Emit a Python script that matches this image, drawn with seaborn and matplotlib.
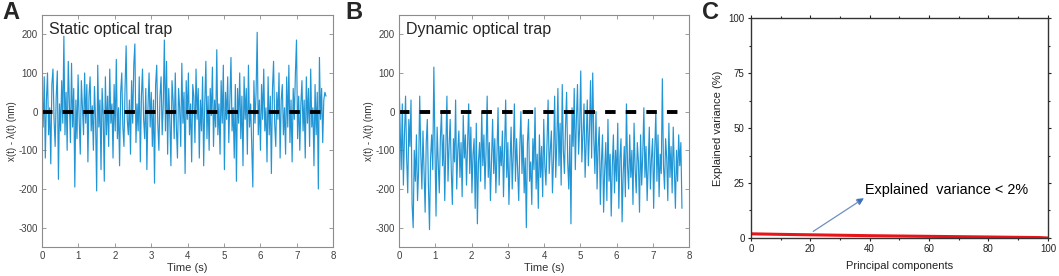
import seaborn as sns
import matplotlib.pyplot as plt
import pandas as pd
import numpy as np
from matplotlib.ticker import MultipleLocator

sns.set_theme(style="white")
plt.rcParams["font.family"] = ["Liberation Sans", "DejaVu Sans"]
plt.rcParams["axes.unicode_minus"] = False

# データ (読み取り値)
dt = 0.03  # サンプリング間隔 [s]

static_trap = [
    60, -40, 90, -120, 30, 100, -60, 10, -135, 70, 110, -20, -90, 40, 105, -175, 20, -50, 80, -30,
    195, -60, 50, -100, 130, 20, -80, 125, -40, 60, -195, 30, -70, 95, -20, -110, 80, 10, -60, 100,
    -30, 70, -130, 40, 90, -50, 15, -100, 65, -20, -205, 120, -40, 30, -150, 60, -10, -180, 90, -60,
    40, -90, 110, -30, 20, -120, 70, -50, 135, -70, 10, -140, 50, 100, -40, -90, 60, 170, -20, -60,
    30, -110, 80, -30, 120, 175, -80, 20, -50, 90, -130, 40, 110, -20, -70, 60, -150, 10, 100, -40,
    50, -90, 30, -185, 70, 120, -30, -100, 40, 90, -60, 20, 185, -50, 130, -110, 60, -20, -140, 80,
    30, -70, 100, -40, -120, 60, 10, -90, 125, -30, 50, -160, 80, -20, 100, -60, 20, -130, 70, 40,
    -80, 110, -20, 60, -120, 30, -50, 90, -140, 20, 130, -70, 40, -100, 60, -10, 115, -90, 30, -40,
    160, -60, 20, -110, 80, -30, 120, -150, 50, -20, 90, -80, 30, 140, -50, 10, -120, 70, -180, 60,
    -30, 100, -70, 40, -140, 90, -20, 60, -110, 120, -40, 20, -90, -195, 80, -30, 50, 205, -60, 30,
    -100, 70, -20, 110, -50, 10, -130, 90, -60, 40, -160, 60, 130, -30, -90, 50, -20, 100, -120, 30,
    70, -60, 10, -110, 90, -40, 120, -80, 30, -130, 60, -20, 100, 185, -70, 40, -100, 20, 80, -50,
    30, -120, 90, -30, 60, -90, 110, -40, 10, -140, 70, -60, 50, -200, 140, -20, 60, -80, 30, 50,
    40,
]

dynamic_trap = [
    85, -40, -150, 20, -190, -60, 40, -120, -210, -20, -90, 30, -240, -300, -100, -180, -60, -230, -150, 40,
    -110, -200, -50, -160, -260, -80, -20, -190, -305, -120, -60, -150, 115, -90, -270, -40, -130, -210, -70, 0,
    -140, -60, -230, -100, 40, -180, -90, -20, -150, -240, -70, -130, 30, -200, -100, -50, -170, -80, -220, -10,
    -120, -60, -190, -90, 20, -160, -40, -210, -110, -70, -250, -30, -290, -130, -80, -180, 0, -140, -60, -200,
    -100, 40, -170, -80, -230, -120, -20, -160, -70, -210, -110, 10, -190, -90, -140, -50, -220, -100, 30, -170,
    -80, -240, -130, -40, -200, -110, 20, -180, -70, -150, -230, -90, 0, -160, -60, -210, -120, -300, -80, -20,
    -180, -130, -240, -70, -150, 10, -200, -110, -250, -60, -170, -90, -220, -20, -140, -190, -80, 30, -160, -100,
    -50, -210, -120, 40, -170, -80, 60, -140, -30, -190, 70, -100, -160, -40, 50, -130, -200, -60, -290, 10,
    -90, 60, -150, -20, 70, -110, -40, 105, -130, -60, 20, -170, -80, 30, -140, -50, 80, -120, 100, -70,
    -160, 0, -200, -90, -40, -240, -130, -60, -260, -150, -80, -230, -20, -180, -110, -270, -140, -60, -210, -100,
    -180, -30, -250, -120, -70, -285, -160, -90, -220, 20, -140, -200, -60, -170, -100, -240, -30, -150, -210, -80,
    -130, -260, -60, -190, -110, 10, -170, -90, -230, -140, -40, -200, -120, -70, -250, -100, 0, -180, -60, -220,
    -110, -160, 85, -140, -200, -70, -120, -230, -30, -170, -90, -210, -40, -150, -250, -100, -180, -60, -140, -80,
    -250,
]

pc_index = [0, 10, 20, 30, 40, 50, 60, 70, 80, 90, 97, 100]
explained_var = [1.9, 1.65, 1.45, 1.25, 1.05, 0.9, 0.75, 0.6, 0.45, 0.3, 0.2, 0.0]

trace_color = "#0a8ad0"
axis_gray = "#8c8c8c"

fig = plt.figure(figsize=(10.59, 2.76), dpi=100)
ax_a = fig.add_axes([0.0397, 0.105, 0.275, 0.841])
ax_b = fig.add_axes([0.3768, 0.105, 0.274, 0.841])
ax_c = fig.add_axes([0.709, 0.1377, 0.2805, 0.797])


def trace_panel(ax, values, title):
    df = pd.DataFrame({"t": np.arange(len(values)) * dt, "x": values})
    sns.lineplot(data=df, x="t", y="x", ax=ax, color=trace_color, linewidth=0.85, alpha=0.9)
    ax.plot([0, 7.7], [0, 0], color="black", linestyle=(0, (2.7, 2.6)), linewidth=2.8)
    ax.set_xlim(0, 8)
    ax.set_ylim(-350, 250)
    ax.set_xticks(range(0, 9))
    ax.set_yticks([-300, -200, -100, 0, 100, 200])
    ax.set_xlabel("Time (s)", fontsize=8, color="#333333", labelpad=1)
    ax.set_ylabel("x(t) - λ(t) (nm)", fontsize=7, color="#333333", labelpad=1)
    ax.tick_params(direction="in", length=3, width=0.6, colors=axis_gray, labelcolor="#404040",
                   labelsize=7, top=True, right=True, bottom=True, left=True, pad=3)
    for s in ax.spines.values():
        s.set_color(axis_gray)
        s.set_linewidth(0.8)
    ax.text(0.025, 0.97, title, transform=ax.transAxes, fontsize=11.5, va="top", ha="left")


trace_panel(ax_a, static_trap, "Static optical trap")
trace_panel(ax_b, dynamic_trap, "Dynamic optical trap")

# パネルC
dfc = pd.DataFrame({"pc": pc_index, "var": explained_var})
sns.lineplot(data=dfc, x="pc", y="var", ax=ax_c, color="#e8141a", linewidth=2.2)
ax_c.set_xlim(0, 100)
ax_c.set_ylim(0, 100)
ax_c.set_xticks(range(0, 101, 20))
ax_c.set_yticks([0, 25, 50, 75, 100])
ax_c.xaxis.set_minor_locator(MultipleLocator(10))
ax_c.yaxis.set_minor_locator(MultipleLocator(12.5))
ax_c.tick_params(which="both", direction="out", length=2.5, width=0.8, colors="#222222",
                 labelsize=7, top=True, right=True, bottom=True, left=True, labeltop=False,
                 labelright=False, pad=2)
ax_c.tick_params(which="minor", length=1.5)
ax_c.set_xlabel("Principal components", fontsize=8, color="#222222", labelpad=5)
ax_c.set_ylabel("Explained variance (%)", fontsize=8, color="#222222", labelpad=4)
for s in ax_c.spines.values():
    s.set_color("#333333")
    s.set_linewidth(1.0)
ax_c.annotate("", xy=(38, 18), xytext=(21, 3),
              arrowprops=dict(arrowstyle="-|>", color="#6f8fc0", lw=0.9, mutation_scale=10,
                              shrinkA=0, shrinkB=0))
ax_c.annotate("", xy=(38, 18), xytext=(36.5, 16.8),
              arrowprops=dict(arrowstyle="-|>", color="#3a70c0", lw=0, mutation_scale=11,
                              shrinkA=0, shrinkB=0))
ax_c.text(38.5, 22, "Explained  variance < 2%", fontsize=10.4, color="black", va="center", ha="left")

# パネルラベル
fig.text(0.002, 0.995, "A", fontsize=17, fontweight="bold", va="top", ha="left")
fig.text(0.326, 0.995, "B", fontsize=17, fontweight="bold", va="top", ha="left")
fig.text(0.663, 0.995, "C", fontsize=17, fontweight="bold", va="top", ha="left")

plt.savefig("out.png", dpi=100)
